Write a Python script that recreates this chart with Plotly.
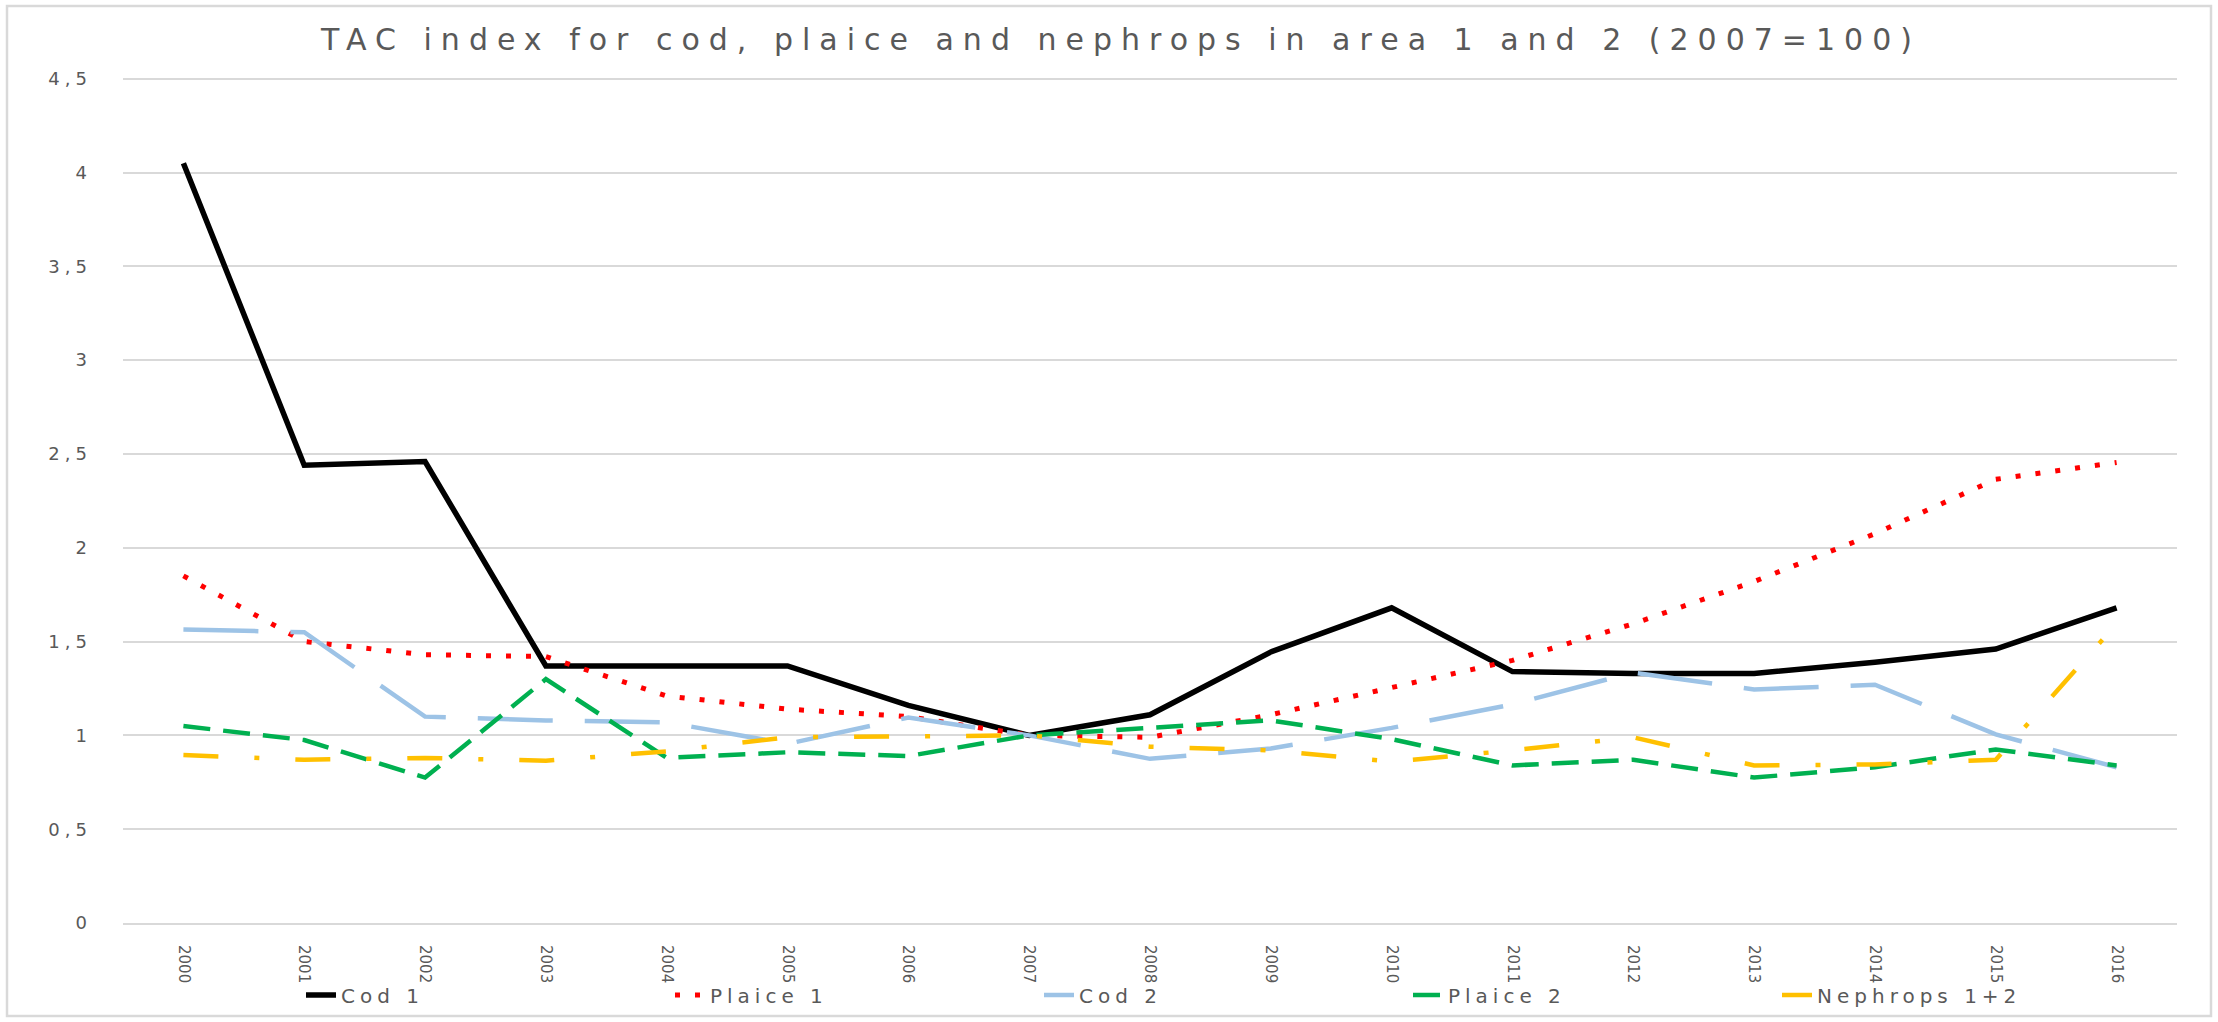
import plotly.graph_objects as go

# ---------------- data ----------------
years = [str(y) for y in range(2000, 2017)]

cod_1 = [4.05, 2.44, 2.46, 1.37, 1.37, 1.37, 1.16, 1.00, 1.11, 1.445, 1.68, 1.34, 1.33, 1.33, 1.39, 1.46, 1.68]
plaice_1 = [1.85, 1.50, 1.43, 1.42, 1.21, 1.14, 1.10, 1.00, 0.99, 1.11, 1.255, 1.40, 1.595, 1.82, 2.075, 2.365, 2.455]
cod_2 = [1.565, 1.55, 1.10, 1.08, 1.07, 0.955, 1.095, 1.00, 0.875, 0.93, 1.04, 1.165, 1.335, 1.245, 1.27, 1.005, 0.83]
plaice_2 = [1.05, 0.975, 0.775, 1.30, 0.88, 0.91, 0.89, 1.00, 1.04, 1.08, 0.98, 0.84, 0.87, 0.775, 0.83, 0.925, 0.84]
nephrops = [0.895, 0.87, 0.88, 0.865, 0.915, 0.99, 0.995, 1.00, 0.94, 0.92, 0.86, 0.92, 0.99, 0.84, 0.845, 0.87, 1.595]

series_names = ["Cod 1", "Plaice 1", "Cod 2", "Plaice 2", "Nephrops 1+2"]
y_tick_vals = [0, 0.5, 1, 1.5, 2, 2.5, 3, 3.5, 4, 4.5]
y_tick_text = ["0", "0,5", "1", "1,5", "2", "2,5", "3", "3,5", "4", "4,5"]
title_text = "TAC index for cod, plaice and nephrops in area 1 and 2 (2007=100)"

# ---------------- styling ----------------
W, H = 2218, 1022
Y_MAX = 4.52                      # a little headroom so the 4,5 gridline is drawn
ML, MR, MB = 123, 41, 99
PH = 923 - 79                     # pixel height of 0..4.5
MT = int(round(79 - PH / 4.5 * (Y_MAX - 4.5)))
PW = W - ML - MR
PH_TOTAL = H - MT - MB
FONT = "DejaVu Sans"
GREY_TXT = "#595959"
GRID = "#D9D9D9"


def spaced(t, px):
    return f'<span style="letter-spacing:{px}px">{t}</span>'


styles = [
    dict(color="#000000", width=5.5, dash="solid"),
    dict(color="#FF0000", width=5, dash="5px,15px"),
    dict(color="#9DC3E6", width=4.5, dash="75px,32px"),
    dict(color="#00B050", width=4.5, dash="27px,13px"),
    dict(color="#FFC000", width=4.5, dash="35px,36px,5px,36px"),
]
values = [cod_1, plaice_1, cod_2, plaice_2, nephrops]

fig = go.Figure()
for name, vals, st in zip(series_names, values, styles):
    fig.add_trace(go.Scatter(
        x=years, y=vals, mode="lines", name=spaced(name, 5),
        line=dict(color=st["color"], width=st["width"], dash=st["dash"]),
        hoverinfo="x+y",
    ))

fig.update_layout(
    template="none",
    width=W, height=H,
    margin=dict(l=ML, r=MR, t=MT, b=MB, autoexpand=False),
    paper_bgcolor="white", plot_bgcolor="white",
    font=dict(family=FONT, color=GREY_TXT),
    title=dict(
        text=spaced(title_text, 9),
        x=1121 / W, xref="container", xanchor="center",
        y=1 - 39 / H, yref="container", yanchor="middle",
        font=dict(family=FONT, size=30, color=GREY_TXT),
    ),
    xaxis=dict(
        type="category", range=[-0.5, 16.5],
        showgrid=False, zeroline=False, automargin=False,
        showline=True, linecolor=GRID, linewidth=2,
        ticks="", tickangle=90,
        tickfont=dict(family=FONT, size=15, color=GREY_TXT),
        ticklabelstandoff=17,
    ),
    yaxis=dict(
        range=[0, Y_MAX], tickvals=y_tick_vals,
        ticktext=[spaced(t, 5) for t in y_tick_text],
        showgrid=True, gridcolor=GRID, gridwidth=2,
        zeroline=False, showline=False, ticks="", automargin=False,
        tickfont=dict(family=FONT, size=18, color=GREY_TXT),
        ticklabelstandoff=30,
    ),
    legend=dict(
        orientation="h",
        x=(301 - ML) / PW, xanchor="left",
        y=(H - MB - 995) / PH_TOTAL, yanchor="middle",
        entrywidth=324, entrywidthmode="pixels",
        font=dict(family=FONT, size=20, color=GREY_TXT),
        bgcolor="rgba(0,0,0,0)", borderwidth=0,
    ),
    shapes=[dict(
        type="rect", xref="paper", yref="paper",
        x0=(7 - ML) / PW, x1=(2211 - ML) / PW,
        y0=(H - MB - 1016) / PH_TOTAL, y1=(H - MB - 6) / PH_TOTAL,
        line=dict(color=GRID, width=2.5), fillcolor="rgba(0,0,0,0)", layer="below",
    )],
)

fig.write_html(
    "out.html",
    config={"displayModeBar": False},
    post_script="document.body.style.margin='0';document.body.style.overflow='hidden';",
)
